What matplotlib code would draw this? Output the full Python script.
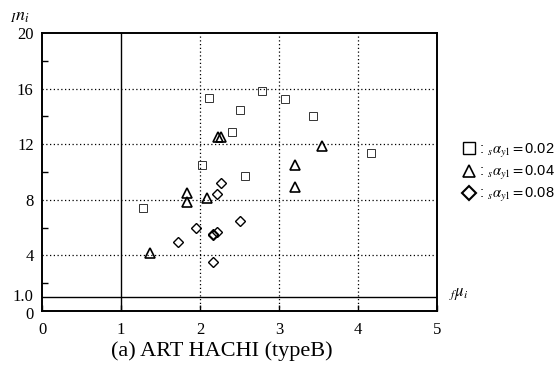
import matplotlib
matplotlib.use("Agg")
import matplotlib.pyplot as plt
from matplotlib.lines import Line2D
import matplotlib.transforms as mtransforms

plt.rcParams['font.family'] = ['Liberation Serif', 'DejaVu Serif']
plt.rcParams['mathtext.fontset'] = 'stix'

# alpha_y1 = 0.02 (cuadrados)
x_sq = [1.28, 2.11, 2.78, 2.50, 2.41, 2.03, 2.57, 3.08, 3.43, 4.17]
y_sq = [7.4, 15.3, 15.8, 14.5, 12.9, 10.5, 9.7, 15.25, 14.0, 11.4]
# alpha_y1 = 0.04 (triangulos)
x_tri = [2.23, 2.27, 3.55, 3.20, 3.20, 1.84, 1.84, 2.09, 1.37]
y_tri = [12.5, 12.5, 11.9, 10.5, 8.9, 8.5, 7.85, 8.15, 4.15]
# alpha_y1 = 0.08 (rombos)
x_dia = [2.27, 2.22, 2.51, 1.95, 1.72, 2.16, 2.22, 2.17, 2.16]
y_dia = [9.2, 8.45, 6.5, 6.0, 5.0, 5.55, 5.7, 5.45, 3.5]

etiquetas = ['0.02', '0.04', '0.08']

fig = plt.figure(figsize=(5.55, 3.72), dpi=100)
ax = fig.add_axes([0.0757, 0.164, 0.7117, 0.747])

ax.set_xlim(0, 5)
ax.set_ylim(0, 20)

# grilla punteada
for gx in [2, 3, 4]:
    ax.axvline(gx, color='k', ls=(0, (1, 2)), lw=0.9, zorder=1)
for gy in [4, 8, 12, 16]:
    ax.axhline(gy, color='k', ls=(0, (1, 2)), lw=0.9, zorder=1)
# lineas solidas en 1
ax.axvline(1, color='k', lw=1.0, zorder=1)
ax.axhline(1, color='k', lw=1.0, zorder=1)

ax.plot(x_sq, y_sq, 's', ms=6, mfc='none', mec='#333333', mew=0.7, zorder=3)
ax.plot(x_tri, y_tri, '^', ms=7, mfc='none', mec='k', mew=1.2, zorder=3)
ax.plot(x_dia, y_dia, 'D', ms=5, mfc='none', mec='k', mew=1.0, zorder=3)

ax.set_xticks([0, 1, 2, 3, 4, 5])
ax.set_yticks([0, 1, 4, 8, 12, 16, 20])
ax.set_yticklabels(['0', '1.0', '4', '8', '12', '16', '20'])
ax.set_yticks([2, 6, 10, 14, 18], minor=True)
ax.tick_params(axis='y', which='major', direction='in', length=0, labelsize=12, pad=6)
ax.tick_params(axis='x', which='major', direction='in', length=4, width=1, labelsize=12, pad=8)
ax.tick_params(axis='y', which='minor', direction='in', length=4, width=1)
for s in ax.spines.values():
    s.set_linewidth(1.4)

# separar un poco "0" y "1.0"
ylabs = ax.get_yticklabels()
ylabs[0].set_transform(ylabs[0].get_transform() + mtransforms.ScaledTranslation(0, -2 / 100, fig.dpi_scale_trans))
ylabs[1].set_transform(ylabs[1].get_transform() + mtransforms.ScaledTranslation(0, 2 / 100, fig.dpi_scale_trans))

ax.text(-0.08, 1.03, r'$_{I}n_i$', transform=ax.transAxes, fontsize=13, ha='left', va='bottom')
ax.text(1.03, 0.06, r'$_f\mu_i$', transform=ax.transAxes, fontsize=12, ha='left', va='center')

handles = [Line2D([], [], ls='none', marker='s', ms=8, mfc='none', mec='k', mew=1.0),
           Line2D([], [], ls='none', marker='^', ms=9, mfc='none', mec='k', mew=1.2),
           Line2D([], [], ls='none', marker='D', ms=7, mfc='none', mec='k', mew=1.5)]
labels = [r': $_s\alpha_{y1}=$' + e for e in etiquetas]
leg = fig.legend(handles, labels, loc='center left', bbox_to_anchor=(0.81, 0.535),
                 frameon=False, handlelength=0.8, handletextpad=0.3, labelspacing=0.3,
                 prop={'family': 'Liberation Sans', 'size': 10.5})

fig.text(0.40, 0.055, '(a) ART HACHI (typeB)', ha='center', va='center', fontsize=16)

fig.savefig('out.png', dpi=100)
